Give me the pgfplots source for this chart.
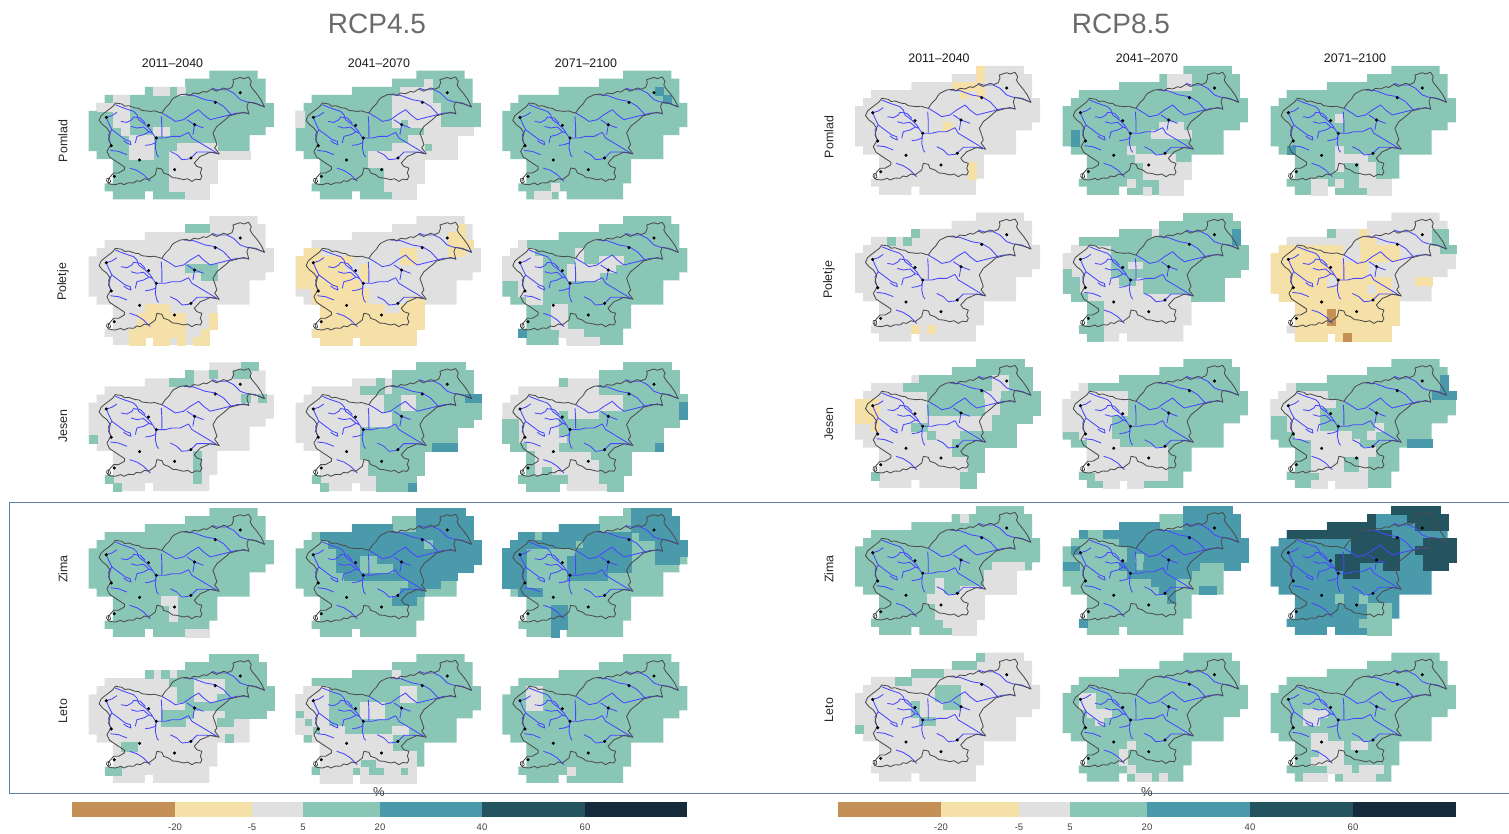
\documentclass[border=0pt]{standalone}
\usepackage{fontspec}
\setmainfont{Liberation Sans}
\usepackage{pgfplots}
\usepackage{pgfplotstable}
\pgfplotsset{compat=1.18}

\definecolor{c1}{HTML}{C49055}
\definecolor{c2}{HTML}{F5E0A8}
\definecolor{c3}{HTML}{E0E0E0}
\definecolor{c4}{HTML}{8AC6B6}
\definecolor{c5}{HTML}{4A9AAC}
\definecolor{c6}{HTML}{245460}
\definecolor{c7}{HTML}{152A3A}
\definecolor{framec}{HTML}{5F7FA3}

% border, rivers and towns in px from the top left corner of a panel
\pgfplotstableread{
x y
10.5 49.7
12.5 45
15.7 42.3
20 39
24.3 35.7
26.7 32.3
33.3 33.3
36 35.5
40 35
46.7 37.3
50 37.5
53.3 39.7
61.7 40.7
66 40.2
70.7 41.7
73.3 42.3
76.7 37.3
81 33
83 29.5
85 27.3
91.7 24
98.3 23.3
101 25
105 22.3
110 23
115 20.7
118 21.5
123.3 18.3
128 20.5
135 17.3
139 18.5
143.3 16.7
145 12
144.3 9
151.7 6.7
155 8
160 6.3
162.7 10.7
161.5 14
163.3 17.3
168.3 23.3
172.3 29
176 36.3
168.3 33.3
160 31.3
158.3 35.7
160.3 43.3
155 41.5
151.7 42.3
145 44
141 45
136.7 49
128.3 55.7
124.3 62.3
126.7 69
128.3 74
126 77
128.3 80
130.7 83.3
121.7 81.3
116 84
111.7 85.7
105.7 92.3
108.3 95.7
113.3 97.3
111.7 102.3
113.3 105.7
111.7 109
107 108.5
103.3 110.7
99 108
95 109
88.3 107.3
84 107
80 104
75 102.3
73.3 98.3
68.3 97.3
66.7 104
60 109
56 108
51.7 110.7
48 110
45 112.3
40 112
35 114
32.3 112.3
26.7 114
21.7 113.5
19.5 112.5
20 108
25 102.3
30 102.3
35.7 99
36 96.3
30 92.3
25 89
21 86.3
18.3 80.7
22.3 74
20 69
21.7 62.3
18.3 57.3
14 54
10.5 49.7
}\bordertab

\pgfplotstableread{
x y
123.3 17.3
128.3 19
138.3 19
145 22.3
151.7 29
158.3 31.3
166.7 32.3
176 36.3
nan nan
95 24
105 24.7
116.7 29
126.7 30.7
135 35.7
143.3 44.7
nan nan
73.3 42.3
81.7 47.3
86.7 50.7
95 49
101.7 44
110 39
115 44
121.7 49
128.3 47.3
141.7 44
148.3 42.3
160 42.3
nan nan
98.3 49
106 54
115 57.3
nan nan
106 54
104.3 64
nan nan
67.7 67.3
76.7 67.3
83.3 65.7
91.7 65.7
100 61.7
103.3 67.3
111.7 72.3
120 77.3
128.3 82.3
nan nan
81.7 80.7
88.3 84
93.3 89
100 88.3
102.3 87.3
108.3 81.3
118.3 81.3
128.3 82.3
nan nan
26.7 34
35 37.3
45 40.7
48.3 44
50 49
56.7 54
61.7 59
66.7 66.7
nan nan
17.7 46.7
23.3 45
28.3 41.7
nan nan
17.7 46.7
20 52.3
23.3 59
20 64
21 70.7
23.3 75.7
nan nan
23.3 59
30 64
36.7 69
41.7 70.7
42.3 74
38.3 72.3
35 70
nan nan
32.3 50.7
38.3 51.7
43.3 49
45 46.3
51.7 47.3
56.7 52.3
nan nan
42.3 55.7
48.3 57.3
55 56.3
60 60.7
63.3 62.3
nan nan
46.7 72.3
48.3 65.7
55 64
60 61.3
nan nan
56.7 74.7
61.7 74
66.7 72.3
67.7 67.3
nan nan
72.7 45.7
73.3 55.7
73.3 66.3
nan nan
67.7 67.3
66.7 77.3
68.3 84
70 86.3
nan nan
21.7 79.7
30 80.7
38.3 84
nan nan
41 97.3
48.3 99.7
55 104
61.7 110.7
}\rivertab

\pgfplotstableread{
x y
17.7 46.7
60 54.7
67.7 67.3
22.7 75
51 89.3
86 99
102.3 87.3
25.7 105.7
151.7 22
126.7 31.7
106 54
}\towntab

\pgfplotstableread{
x y
18.3 108
21 107.5
22 111
20 112.5
18 110.5
18.3 108
}\baytab

\pgfplotsset{
  panel/.style={
    hide axis, scale only axis, clip=false, anchor=north west,
    width=185.15pt, height=128.8pt,
    xmin=0, xmax=23, ymin=0, ymax=16, y dir=reverse,
    unbounded coords=jump,
  },
}

% base class, then overrides class/row from/row to/col from/col to
\newcommand\panel[4]{%
\begin{axis}[panel, at={(#1pt,-#2pt)}]
\addplot[fill=c#3, draw=none] coordinates {(15,0)(21,0)(21,1)(22,1)(22,4)(23,4)(23,7)(22,7)(22,8)(20,8)(20,11)(16,11)(16,14)(15,14)(15,16)(8,16)(8,15)(7,15)(7,16)(3,16)(3,15)(2,15)(2,14)(3,14)(3,11)(1,11)(1,10)(0,10)(0,5)(1,5)(1,4)(2,4)(2,3)(7,3)(7,2)(12,2)(12,1)(15,1)} --cycle;
\foreach \k/\a/\b/\c/\d in {#4}{%
  \edef\tmp{\noexpand\addplot[fill=c\k, draw=c\k, line width=.2pt] coordinates {(\c,\a)(\the\numexpr\d+1\relax,\a)(\the\numexpr\d+1\relax,\the\numexpr\b+1\relax)(\c,\the\numexpr\b+1\relax)} --cycle;}%
  \tmp
}
\addplot[draw=blue!72!white, line width=.85pt, line join=round] table[x expr=\thisrow{x}/8.05, y expr=\thisrow{y}/8.05] {\rivertab};
\addplot[fill=white, draw=black, line width=.5pt] table[x expr=\thisrow{x}/8.05, y expr=\thisrow{y}/8.05] {\baytab};
\addplot[draw=black!70, line width=.85pt, line join=round] table[x expr=\thisrow{x}/8.05, y expr=\thisrow{y}/8.05] {\bordertab};
\addplot[only marks, mark=*, mark size=1.35pt, black] table[x expr=\thisrow{x}/8.05, y expr=\thisrow{y}/8.05] {\towntab};
\end{axis}}

\newcommand\cbar[9]{%
\begin{axis}[
  scale only axis, anchor=north west, at={(#1pt,-802pt)},
  width=\the\numexpr#8-#1\relax pt, height=14.7pt,
  xmin=#1, xmax=#8, ymin=0, ymax=1,
  axis x line*=bottom, axis y line=none, ytick=\empty,
  axis line style={draw=none}, major tick length=0pt,
  xtick={#2,#3,#4,#5,#6,#7}, xticklabels={-20,-5,5,20,40,60},
  xticklabel style={font=\fontsize{9.5}{10}\selectfont, text=black!75, yshift=-3.5pt},
]
\addplot[fill=c1, draw=none] coordinates {(#1,0)(#2,0)(#2,1)(#1,1)} --cycle;
\addplot[fill=c2, draw=none] coordinates {(#2,0)(#3,0)(#3,1)(#2,1)} --cycle;
\addplot[fill=c3, draw=none] coordinates {(#3,0)(#4,0)(#4,1)(#3,1)} --cycle;
\addplot[fill=c4, draw=none] coordinates {(#4,0)(#5,0)(#5,1)(#4,1)} --cycle;
\addplot[fill=c5, draw=none] coordinates {(#5,0)(#6,0)(#6,1)(#5,1)} --cycle;
\addplot[fill=c6, draw=none] coordinates {(#6,0)(#7,0)(#7,1)(#6,1)} --cycle;
\addplot[fill=c7, draw=none] coordinates {(#7,0)(#8,0)(#8,1)(#7,1)} --cycle;
\end{axis}}

\begin{document}
\begin{tikzpicture}
\useasboundingbox (0,0) rectangle (1509pt,-834pt);

\draw[framec, line width=.9pt] (1509pt,-502pt) -- (9pt,-502pt) -- (9pt,-793pt) -- (1509pt,-793pt);

% RCP4.5
\panel{88.6}{70.7}{4}{3/2/2/8/9, 3/2/2/11/11, 3/3/3/3/4, 3/4/4/1/4, 3/5/6/3/4, 3/7/7/4/4, 3/7/7/8/9, 3/8/10/5/7, 3/9/9/11/15, 3/10/10/10/19, 3/11/13/10/15, 3/14/14/10/14, 3/15/15/12/14}
\panel{295.6}{70.7}{4}{3/1/1/16/16, 3/2/2/13/16, 3/3/3/12/16, 3/4/5/12/17, 3/6/6/14/17, 3/6/6/12/12, 3/7/7/16/21, 3/8/8/14/19, 3/9/9/12/15, 3/9/9/17/19, 3/10/10/9/19, 3/11/11/9/15, 3/12/13/11/15, 3/14/14/11/14, 3/15/15/12/14, 3/5/6/0/0}
\panel{502.3}{70.7}{4}{3/14/14/6/6, 3/15/15/4/5, 5/2/2/19/19, 5/3/3/20/20}

\panel{88.6}{216}{3}{4/1/1/12/14, 4/6/6/12/15, 4/7/7/14/15, 2/11/11/7/9, 2/12/13/6/11, 2/12/13/15/15, 2/14/14/5/11, 2/14/14/14/14, 2/15/15/5/6, 2/15/15/8/9, 2/15/15/11/11, 2/15/15/13/14}
\panel{295.6}{216}{3}{2/1/1/20/20, 2/2/2/19/20, 2/3/3/19/21, 2/4/4/19/20, 2/4/5/13/14, 2/4/4/1/2, 2/5/5/0/6, 2/6/6/0/5, 2/6/7/8/8, 2/7/7/0/6, 2/8/8/0/7, 2/9/9/2/8, 2/10/10/2/8, 2/10/10/14/15, 2/11/11/3/10, 2/11/11/13/15, 2/12/13/3/15, 2/14/14/2/14, 2/15/15/3/6, 2/15/15/8/14}
\panel{502.3}{216}{4}{3/3/3/2/2, 3/4/4/1/3, 3/5/7/0/4, 3/8/9/2/4, 3/10/10/3/4, 3/4/5/9/9, 3/5/5/12/14, 3/6/6/12/13, 3/6/7/8/11, 3/11/13/6/7, 3/14/14/7/9, 3/15/15/8/11, 5/14/14/2/2}

\panel{88.6}{362.3}{3}{4/0/0/19/20, 4/1/1/12/12, 4/1/1/15/15, 4/1/1/18/19, 4/2/2/10/12, 4/4/4/19/19, 4/4/4/21/21, 4/9/9/0/0, 4/11/14/13/13, 4/14/14/2/2, 4/15/15/3/3}
\panel{295.6}{362.3}{3}{4/0/0/15/20, 4/1/1/12/21, 4/2/2/10/10, 4/2/2/12/21, 4/3/3/8/10, 4/3/3/12/21, 4/4/5/11/12, 4/4/5/15/22, 4/6/6/12/22, 4/7/7/12/21, 4/8/10/8/19, 4/11/11/8/15, 4/12/13/9/15, 4/14/14/2/2, 4/14/14/10/14, 4/15/15/3/3, 4/15/15/10/14, 5/4/4/21/22, 5/10/10/17/19, 5/15/15/14/14}
\panel{502.3}{362.3}{3}{4/0/0/15/20, 4/1/1/12/21, 4/2/3/12/21, 4/2/2/7/7, 4/4/5/15/22, 4/6/6/7/7, 4/6/6/12/22, 4/7/7/0/1, 4/7/7/7/21, 4/8/9/0/1, 4/8/8/7/19, 4/9/9/8/19, 4/10/10/1/2, 4/10/10/7/19, 4/11/11/3/3, 4/11/11/11/15, 4/12/13/3/3, 4/12/13/12/15, 4/13/13/5/5, 4/14/14/2/7, 4/14/14/12/14, 4/15/15/3/6, 4/15/15/13/14, 5/5/6/22/22, 5/10/10/19/19}

\panel{88.6}{508}{4}{3/11/11/9/10, 3/12/13/10/10, 3/15/15/12/14}
\panel{295.6}{508}{4}{5/0/0/15/20, 5/1/1/15/21, 5/2/2/7/11, 5/2/2/15/21, 5/3/3/3/21, 5/4/4/4/22, 5/5/6/5/22, 5/7/7/5/21, 5/8/8/6/19, 5/9/9/14/17, 5/10/10/13/15, 5/11/11/12/14, 4/4/4/16/16, 4/6/7/8/9, 4/7/7/10/11}
\panel{502.3}{508}{4}{5/0/0/16/20, 5/1/1/16/21, 5/2/2/7/11, 5/2/2/16/21, 5/3/3/2/3, 5/3/3/5/15, 5/3/3/17/21, 5/4/4/1/8, 5/4/4/10/15, 5/4/5/19/22, 5/6/6/19/21, 5/5/7/0/2, 5/8/9/0/2, 5/5/5/9/15, 5/6/6/10/15, 5/6/7/8/9, 5/7/7/8/15, 5/8/8/8/12, 5/10/10/2/4, 5/12/14/6/7, 5/15/15/6/6}

\panel{88.6}{654}{3}{4/0/0/15/20, 4/1/1/12/21, 4/2/2/7/7, 4/2/2/9/9, 4/2/2/11/21, 4/3/3/10/12, 4/3/3/17/21, 4/4/4/11/12, 4/4/4/17/22, 4/5/5/11/12, 4/5/5/16/22, 4/6/6/12/22, 4/7/7/9/12, 4/7/7/17/21, 4/8/8/9/11, 4/8/8/16/17, 4/10/10/17/17, 4/11/11/4/5, 4/14/14/2/3}
\panel{295.6}{654}{4}{3/2/2/12/12, 3/4/4/1/3, 3/4/5/13/14, 3/5/6/0/3, 3/6/7/8/10, 3/7/7/1/3, 3/8/8/0/0, 3/8/8/2/3, 3/9/9/0/1, 3/9/9/3/5, 3/9/9/12/13, 3/10/10/2/11, 3/11/11/3/11, 3/12/12/3/14, 3/13/13/3/7, 3/13/13/10/14, 3/14/14/3/6, 3/14/14/8/8, 3/14/14/11/12, 3/14/14/14/14, 3/15/15/3/6, 3/15/15/8/14}
\panel{502.3}{654}{4}{3/4/6/3/4, 3/14/14/8/8}

% RCP8.5
\panel{855}{66}{3}{2/0/1/15/15, 2/2/2/12/15, 2/3/3/13/13, 2/3/3/15/15, 2/7/7/11/11, 2/12/13/14/14}
\panel{1062.7}{66}{4}{3/1/2/13/15, 3/7/7/12/14, 3/8/8/11/15, 3/10/10/8/8, 3/11/11/9/13, 3/12/13/10/15, 3/14/14/8/8, 3/14/14/12/14, 3/15/15/10/10, 3/15/15/12/14, 5/8/9/1/1}
\panel{1270.6}{66}{4}{3/6/6/8/8, 3/10/10/8/8, 3/11/11/8/11, 3/12/12/8/8, 3/12/13/11/12, 3/14/14/5/6, 3/14/14/8/8, 3/14/14/11/14, 3/15/15/5/6, 3/15/15/12/14, 5/10/10/2/2}

\panel{855}{212.7}{3}{4/2/2/7/7, 4/3/3/4/4, 4/3/3/6/6, 2/14/14/7/7, 2/14/14/9/9}
\panel{1062.7}{212.7}{3}{4/0/0/15/20, 4/1/1/12/21, 4/2/2/7/10, 4/2/2/12/21, 4/3/3/2/21, 4/4/4/6/22, 4/5/5/6/22, 4/6/6/6/7, 4/6/6/10/22, 4/7/7/0/0, 4/7/7/6/21, 4/8/8/0/1, 4/8/8/7/8, 4/8/8/10/19, 4/9/9/0/1, 4/9/9/10/19, 4/10/10/1/2, 4/10/10/16/19, 4/11/13/3/4, 4/14/14/2/4, 4/15/15/3/4, 5/2/3/21/21}
\panel{1270.6}{212.7}{3}{2/2/2/11/11, 2/3/3/11/12, 2/4/4/1/15, 2/5/5/0/15, 2/6/7/0/11, 2/8/9/0/14, 2/10/10/1/15, 2/11/13/3/15, 2/14/14/3/14, 2/15/15/3/6, 2/15/15/8/14, 3/4/5/9/10, 3/8/8/7/7, 3/9/9/12/12, 2/8/8/18/19, 4/2/3/20/21, 4/4/4/21/22, 4/2/2/7/7, 1/12/13/7/7, 1/15/15/9/9}

\panel{855}{359}{3}{4/0/0/15/20, 4/1/1/12/21, 4/2/2/8/21, 4/3/3/6/21, 3/2/3/17/18, 4/4/4/9/22, 3/4/4/16/17, 4/5/6/9/15, 4/5/6/18/22, 4/7/7/17/21, 4/8/8/7/8, 4/8/8/17/19, 4/9/9/9/9, 4/9/9/13/19, 4/10/10/12/19, 4/11/11/12/15, 4/12/13/14/15, 4/14/14/13/14, 4/14/14/2/2, 4/15/15/13/14, 2/5/7/0/2, 2/8/8/2/2}
\panel{1062.7}{359}{4}{3/3/3/2/2, 3/4/4/1/7, 3/5/6/0/7, 3/7/8/0/5, 3/9/9/2/5, 3/10/10/3/6, 3/11/13/3/12, 3/14/14/4/12, 3/15/15/5/6, 3/15/15/8/9}
\panel{1270.6}{359}{4}{3/3/3/2/2, 3/4/4/1/6, 3/5/5/0/7, 3/6/6/0/5, 3/7/8/2/5, 3/8/8/13/13, 3/9/9/3/9, 3/9/9/12/12, 3/10/10/5/10, 3/11/11/5/12, 3/12/13/5/8, 3/12/13/11/11, 3/14/14/6/11, 3/15/15/5/6, 3/15/15/8/11, 5/2/3/21/21, 5/4/4/20/22, 5/10/10/17/19}

\panel{855}{506}{4}{3/1/1/13/13, 3/7/7/17/20, 3/8/9/16/19, 3/9/9/10/10, 3/10/10/10/10, 3/10/10/13/19, 3/11/11/9/15, 3/12/13/10/15, 3/14/14/11/14, 3/15/15/12/14}
\panel{1062.7}{506}{4}{5/0/0/15/20, 5/1/1/15/21, 5/2/2/7/11, 5/2/2/15/21, 5/3/3/2/2, 5/3/3/5/21, 5/4/4/7/22, 5/5/5/1/1, 5/5/6/8/22, 4/6/7/9/9, 5/7/7/0/1, 5/7/7/7/8, 5/7/7/10/16, 5/7/7/20/21, 5/8/8/8/15, 5/9/9/11/13, 5/10/10/12/13, 5/10/10/17/18, 5/11/11/13/13, 5/14/14/2/2}
\panel{1270.6}{506}{5}{6/0/0/15/20, 6/1/1/12/12, 6/1/1/17/21, 6/2/2/7/12, 6/2/2/18/21, 6/3/3/2/14, 6/4/4/10/15, 6/4/4/19/22, 6/5/5/10/15, 6/5/5/18/22, 6/6/6/8/15, 6/6/6/19/22, 6/7/7/8/10, 6/7/7/14/15, 6/7/7/19/21, 6/8/8/9/10, 4/11/11/8/8, 4/11/11/11/11, 4/12/13/12/14, 4/14/14/11/14, 4/15/15/12/14}

\panel{855}{652.7}{3}{4/0/0/15/15, 4/1/1/12/14, 4/2/2/7/10, 4/3/3/5/6, 4/4/5/10/12, 4/6/6/11/12, 4/6/7/7/7, 4/8/8/8/9, 4/9/9/0/0}
\panel{1062.7}{652.7}{4}{3/5/6/2/3, 3/7/7/3/5, 3/8/8/4/4, 3/11/11/8/8, 3/12/13/7/7, 3/14/14/8/8, 3/15/15/9/10, 3/15/15/12/12}
\panel{1270.6}{652.7}{4}{3/7/7/4/6, 3/8/8/4/5, 3/10/10/5/6, 3/11/11/5/8, 3/11/11/10/11, 3/12/12/6/8, 3/13/13/5/8, 3/14/14/7/9, 3/14/14/11/13, 3/15/15/4/6, 3/15/15/9/12}

\cbar{72}{175}{252}{303}{380}{482}{585}{687}{}
\cbar{838}{941}{1019}{1070}{1147}{1250}{1353}{1456}{}

\tikzset{
  big/.style={font=\fontsize{28}{30}\selectfont, text=black!58},
  head/.style={font=\fontsize{12.4}{14}\selectfont, text=black!90},
  side/.style={font=\fontsize{12.4}{14}\selectfont, text=black!85, rotate=90},
  pct/.style={font=\fontsize{13}{14}\selectfont, text=black!75},
}
\node[big] at (377pt,-24pt) {RCP4.5};
\node[big] at (1121pt,-24pt) {RCP8.5};
\foreach \x/\t in {172.5/2011--2040, 379/2041--2070, 586/2071--2100}
  \node[head] at (\x pt,-63pt) {\t};
\foreach \x/\t in {939/2011--2040, 1147/2041--2070, 1355/2071--2100}
  \node[head] at (\x pt,-58pt) {\t};
\foreach \y/\t in {141/Pomlad, 282/Poletje, 426/Jesen, 569/Zima, 711/Leto}
  \node[side] at (63pt,-\y pt) {\t};
\foreach \y/\t in {137/Pomlad, 280/Poletje, 424/Jesen, 569/Zima, 710/Leto}
  \node[side] at (829pt,-\y pt) {\t};
\node[pct] at (379pt,-792pt) {\%};
\node[pct] at (1147pt,-792pt) {\%};
\end{tikzpicture}
\end{document}
